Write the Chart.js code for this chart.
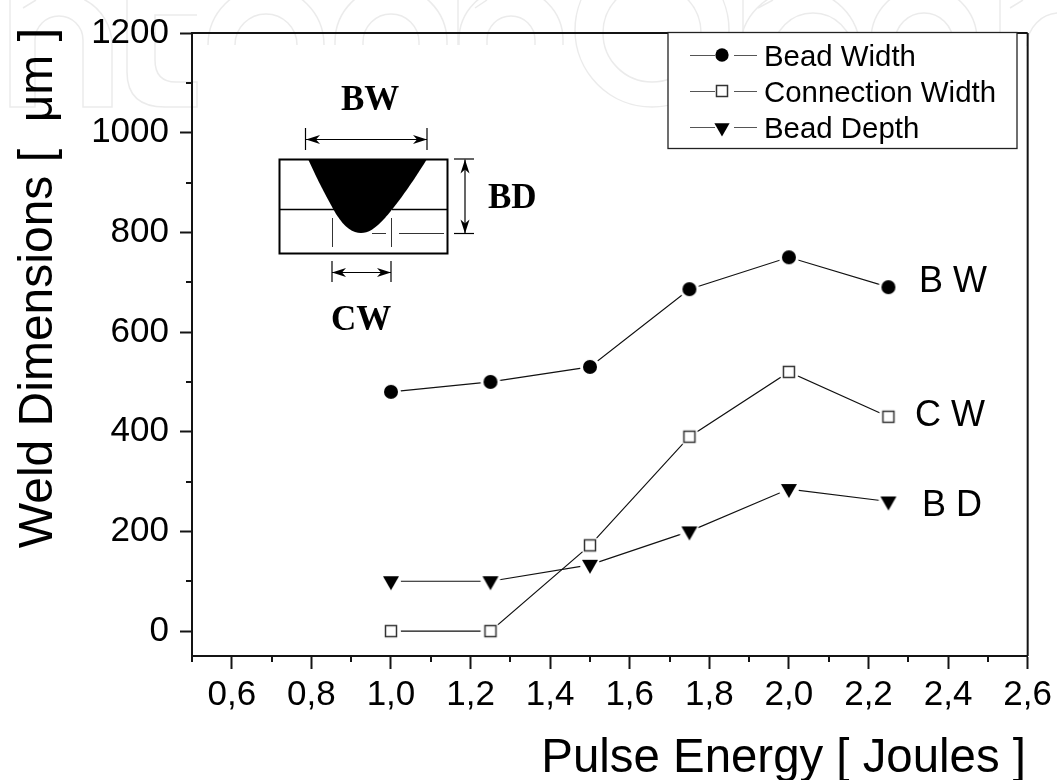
<!doctype html>
<html lang="en">
<head>
  <meta charset="utf-8">
  <title>Weld Dimensions vs Pulse Energy</title>
  <script src="https://cdn.jsdelivr.net/npm/chart.js"></script>
  <style>
    html, body { margin: 0; padding: 0; background: #fff; }
    canvas { display: block; }
  </style>
</head>
<body>
  <canvas id="weldChart" width="1057" height="780"></canvas>

  <script>
    var energy = [1.0, 1.25, 1.5, 1.75, 2.0, 2.25];
    var beadWidth = [480, 500, 530, 686, 750, 690];
    var connectionWidth = [0, 0, 172, 390, 520, 430];
    var beadDepth = [100, 100, 133, 200, 285, 260];

    var seriesNames = ["Bead Width", "Connection Width", "Bead Depth"];
    var seriesTags = ["B W", "C W", "B D"];

    var xTicks = [0.6, 0.8, 1.0, 1.2, 1.4, 1.6, 1.8, 2.0, 2.2, 2.4, 2.6];
    var xTickLabels = ["0,6", "0,8", "1,0", "1,2", "1,4", "1,6", "1,8", "2,0", "2,2", "2,4", "2,6"];
    var xMinorTicks = [0.5, 0.7, 0.9, 1.1, 1.3, 1.5, 1.7, 1.9, 2.1, 2.3, 2.5];
    var yTicks = [0, 200, 400, 600, 800, 1000, 1200];
    var yTickLabels = ["0", "200", "400", "600", "800", "1000", "1200"];
    var yMinorTicks = [100, 300, 500, 700, 900, 1100];

    var INK = "#141414";
    var SANS = '"Liberation Sans", Arial, sans-serif';
    var SERIF = '"Liberation Serif", "Times New Roman", serif';

    // marker sprites, white disc underneath leaves the small gap around each symbol
    function makeMarker(drawSymbol) {
      var c = document.createElement("canvas");
      c.width = 24;
      c.height = 24;
      var g = c.getContext("2d");
      g.translate(12, 12);
      g.fillStyle = "#fff";
      g.beginPath();
      g.arc(0, 0, 10, 0, Math.PI * 2);
      g.fill();
      drawSymbol(g);
      return c;
    }
    function symbolCircle(g) {
      g.fillStyle = "#000";
      g.beginPath();
      g.arc(0, 0, 7, 0, Math.PI * 2);
      g.fill();
    }
    function symbolSquare(g) {
      g.strokeStyle = "#333";
      g.lineWidth = 1.5;
      g.strokeRect(-5.5, -5.5, 11, 11);
    }
    function symbolTriangle(g) {
      g.fillStyle = "#000";
      g.beginPath();
      g.moveTo(-8, -5);
      g.lineTo(8, -5);
      g.lineTo(0, 9);
      g.closePath();
      g.fill();
    }
    var symbols = [symbolCircle, symbolSquare, symbolTriangle];

    function toPoints(values) {
      return values.map(function (v, i) { return { x: energy[i], y: v }; });
    }
    function makeSeries(name, values, symbol) {
      return {
        label: name,
        data: toPoints(values),
        borderColor: "#111",
        borderWidth: 1.2,
        pointStyle: makeMarker(symbol),
        pointRadius: 8,
        pointHoverRadius: 8,
        tension: 0,
        fill: false
      };
    }

    function drawArrowHead(ctx, x, y, dx, dy) {
      // barbed head, tip on (x, y), pointing along (dx, dy)
      var nx = -dy, ny = dx;
      ctx.beginPath();
      ctx.moveTo(x, y);
      ctx.lineTo(x - dx * 14 + nx * 4.5, y - dy * 14 + ny * 4.5);
      ctx.lineTo(x - dx * 10, y - dy * 10);
      ctx.lineTo(x - dx * 14 - nx * 4.5, y - dy * 14 - ny * 4.5);
      ctx.closePath();
      ctx.fill();
    }
    function line(ctx, x1, y1, x2, y2) {
      ctx.beginPath();
      ctx.moveTo(x1, y1);
      ctx.lineTo(x2, y2);
      ctx.stroke();
    }
    // open arch standing on a flat cut, for the background mark
    function arch(ctx, cx, cy, r, footY) {
      ctx.beginPath();
      ctx.moveTo(cx - r, footY);
      ctx.lineTo(cx - r, cy);
      ctx.arc(cx, cy, r, Math.PI, Math.PI * 2);
      ctx.lineTo(cx + r, footY);
      ctx.stroke();
    }

    function drawWatermark(ctx) {
      ctx.save();
      ctx.strokeStyle = "#ebebeb";
      ctx.lineWidth = 1.5;

      // first letter, n
      ctx.beginPath();
      ctx.moveTo(10, 0);
      ctx.lineTo(10, 107);
      ctx.lineTo(35, 107);
      ctx.lineTo(35, 40);
      ctx.arc(59, 40, 24, Math.PI, Math.PI * 2);
      ctx.lineTo(83, 107);
      ctx.lineTo(112, 107);
      ctx.lineTo(112, 45);
      ctx.arc(61, 45, 51, 0, -Math.PI * 0.35, true);
      ctx.stroke();
      line(ctx, 23, 8, 36, 0);

      // t
      ctx.beginPath();
      ctx.moveTo(127, 0);
      ctx.lineTo(127, 72);
      ctx.quadraticCurveTo(127, 107, 165, 107);
      ctx.lineTo(197, 107);
      ctx.lineTo(197, 82);
      ctx.lineTo(176, 82);
      ctx.quadraticCurveTo(155, 82, 155, 60);
      ctx.lineTo(155, 15);
      ctx.lineTo(197, 15);
      ctx.stroke();

      // cut arches along the top of the plot
      arch(ctx, 266, 45, 58, 45);
      arch(ctx, 266, 45, 31, 45);
      arch(ctx, 391, 42, 56, 45);
      arch(ctx, 391, 42, 28, 45);
      arch(ctx, 511, 40, 52, 45);
      arch(ctx, 511, 40, 24, 45);
      line(ctx, 458, 0, 458, 45);
      line(ctx, 475, 8, 487, 0);

      // the big ring, the legend box hides its right side
      ctx.beginPath();
      ctx.arc(652, 30, 77, 0, Math.PI * 2);
      ctx.stroke();
      ctx.beginPath();
      ctx.arc(652, 33, 49, 0, Math.PI * 2);
      ctx.stroke();

      // what shows above the legend
      line(ctx, 743, 0, 743, 33);
      line(ctx, 758, 8, 773, 0);
      arch(ctx, 813, 53, 40, 53);
      arch(ctx, 800, 50, 60, 50);
      arch(ctx, 924, 40, 53, 40);
      arch(ctx, 924, 42, 29, 42);
      line(ctx, 1000, 0, 1000, 33);
      line(ctx, 1010, 8, 1023, 0);
      arch(ctx, 1060, 46, 33, 46);
      ctx.restore();
    }

    function drawInset(ctx) {
      ctx.save();
      ctx.strokeStyle = "#000";
      ctx.fillStyle = "#000";

      // bead shape
      ctx.beginPath();
      ctx.moveTo(308, 159);
      ctx.lineTo(427, 159);
      ctx.bezierCurveTo(408, 190, 392, 210, 385, 218);
      ctx.bezierCurveTo(375, 229, 368, 233, 361, 233);
      ctx.bezierCurveTo(353, 233, 345, 228, 336, 214);
      ctx.bezierCurveTo(328, 200, 318, 181, 308, 159);
      ctx.fill();

      ctx.lineWidth = 2;
      ctx.strokeRect(279.5, 159.5, 168, 94);
      ctx.lineWidth = 1.5;
      line(ctx, 334, 209.5, 280, 209.5);
      line(ctx, 392, 209.5, 447, 209.5);

      // thin guides under the bead
      ctx.lineWidth = 0.8;
      line(ctx, 332.5, 218, 332.5, 247);
      line(ctx, 391.5, 218, 391.5, 247);
      line(ctx, 372, 233.5, 386, 233.5);
      line(ctx, 399, 233.5, 444, 233.5);

      // BW dimension
      ctx.lineWidth = 1.2;
      line(ctx, 306, 139.5, 427, 139.5);
      line(ctx, 305.5, 128, 305.5, 150);
      line(ctx, 427, 128, 427, 150);
      drawArrowHead(ctx, 306, 139.5, -1, 0);
      drawArrowHead(ctx, 427, 139.5, 1, 0);

      // CW dimension
      line(ctx, 332, 272.5, 391, 272.5);
      line(ctx, 332, 261, 332, 282);
      line(ctx, 391, 261, 391, 282);
      drawArrowHead(ctx, 332, 272.5, -1, 0);
      drawArrowHead(ctx, 391, 272.5, 1, 0);

      // BD dimension
      line(ctx, 465, 159.5, 465, 233.5);
      line(ctx, 454, 159, 474, 159);
      line(ctx, 454, 233.5, 474, 233.5);
      drawArrowHead(ctx, 465, 159.5, 0, -1);
      drawArrowHead(ctx, 465, 233.5, 0, 1);

      ctx.font = "bold 35px " + SERIF;
      ctx.textAlign = "left";
      ctx.textBaseline = "alphabetic";
      ctx.fillText("BW", 341, 110);
      ctx.fillText("BD", 488, 208);
      ctx.fillText("CW", 331, 330);
      ctx.restore();
    }

    function drawLegend(ctx) {
      var rows = [55, 91, 127];
      ctx.save();
      ctx.fillStyle = "#fff";
      ctx.fillRect(668, 32, 349, 116);
      ctx.strokeStyle = "#222";
      ctx.lineWidth = 1.3;
      ctx.strokeRect(668, 32.5, 349, 116);
      rows.forEach(function (y, i) {
        ctx.strokeStyle = "#555";
        ctx.lineWidth = 1;
        line(ctx, 690, y + 0.5, 715, y + 0.5);
        line(ctx, 734, y + 0.5, 757, y + 0.5);
        ctx.save();
        ctx.translate(722, y + (i === 2 ? 1 : 0));
        if (i !== 1) ctx.scale(0.95, 0.95);
        symbols[i](ctx);
        ctx.restore();
        ctx.fillStyle = "#000";
        ctx.font = "29.4px " + SANS;
        ctx.textAlign = "left";
        ctx.textBaseline = "alphabetic";
        ctx.fillText(seriesNames[i], 764, y + 11);
      });
      ctx.restore();
    }

    var decorPlugin = {
      id: "decor",
      beforeDraw: function (chart) {
        var ctx = chart.ctx;
        ctx.save();
        ctx.fillStyle = "#fff";
        ctx.fillRect(0, 0, chart.width, chart.height);
        ctx.restore();
        drawWatermark(ctx);
      },
      afterDraw: function (chart) {
        var ctx = chart.ctx;
        var area = chart.chartArea;
        var xs = chart.scales.x;
        var ys = chart.scales.y;
        ctx.save();
        ctx.strokeStyle = INK;
        ctx.lineWidth = 2;
        line(ctx, area.left, area.top, area.right, area.top);
        line(ctx, area.right, area.top, area.right, area.bottom);
        xMinorTicks.forEach(function (v) {
          var px = Math.round(xs.getPixelForValue(v));
          line(ctx, px, area.bottom, px, area.bottom + 6);
        });
        yMinorTicks.forEach(function (v) {
          var py = Math.round(ys.getPixelForValue(v));
          line(ctx, area.left, py, area.left - 6, py);
        });

        drawInset(ctx);
        drawLegend(ctx);

        ctx.fillStyle = "#000";
        ctx.textBaseline = "alphabetic";
        ctx.textAlign = "left";
        ctx.font = "36px " + SANS;
        ctx.fillText(seriesTags[0], 919, 292);
        ctx.fillText(seriesTags[1], 915, 426);
        ctx.fillText(seriesTags[2], 922, 516);

        ctx.textAlign = "right";
        ctx.font = "47.4px " + SANS;
        ctx.fillText("Pulse Energy [ Joules ]", 1026, 772);
        ctx.font = "48px " + SANS;
        ctx.translate(52, 28);
        ctx.rotate(-Math.PI / 2);
        ctx.fillText("Weld Dimensions [  \u03BCm ]", 0, 0);
        ctx.restore();
      }
    };

    var chart = new Chart(document.getElementById("weldChart").getContext("2d"), {
      type: "line",
      data: {
        datasets: [
          makeSeries(seriesNames[2], beadDepth, symbols[2]),
          makeSeries(seriesNames[1], connectionWidth, symbols[1]),
          makeSeries(seriesNames[0], beadWidth, symbols[0])
        ]
      },
      options: {
        responsive: false,
        animation: false,
        events: [],
        layout: { padding: { left: 0, top: 33, right: 29, bottom: 0 } },
        plugins: {
          legend: { display: false },
          title: { display: false },
          tooltip: { enabled: false }
        },
        scales: {
          x: {
            type: "linear",
            min: 0.5,
            max: 2.6,
            afterBuildTicks: function (scale) {
              scale.ticks = xTicks.map(function (v) { return { value: v }; });
            },
            afterFit: function (scale) { scale.height = 124; },
            grid: { drawOnChartArea: false, tickLength: 13, tickWidth: 2, tickColor: INK },
            border: { display: true, width: 2, color: INK },
            ticks: {
              autoSkip: false,
              maxRotation: 0,
              padding: 5,
              color: "#000",
              font: { family: SANS, size: 35 },
              callback: function (value, index) { return xTickLabels[index]; }
            }
          },
          y: {
            type: "linear",
            min: -50,
            max: 1200,
            afterBuildTicks: function (scale) {
              scale.ticks = yTicks.map(function (v) { return { value: v }; });
            },
            afterFit: function (scale) { scale.width = 192; },
            grid: { drawOnChartArea: false, tickLength: 12, tickWidth: 2, tickColor: INK },
            border: { display: true, width: 2, color: INK },
            ticks: {
              autoSkip: false,
              padding: 11,
              color: "#000",
              font: { family: SANS, size: 35 },
              callback: function (value, index) { return yTickLabels[index]; }
            }
          }
        }
      },
      plugins: [decorPlugin]
    });
  </script>
</body>
</html>
